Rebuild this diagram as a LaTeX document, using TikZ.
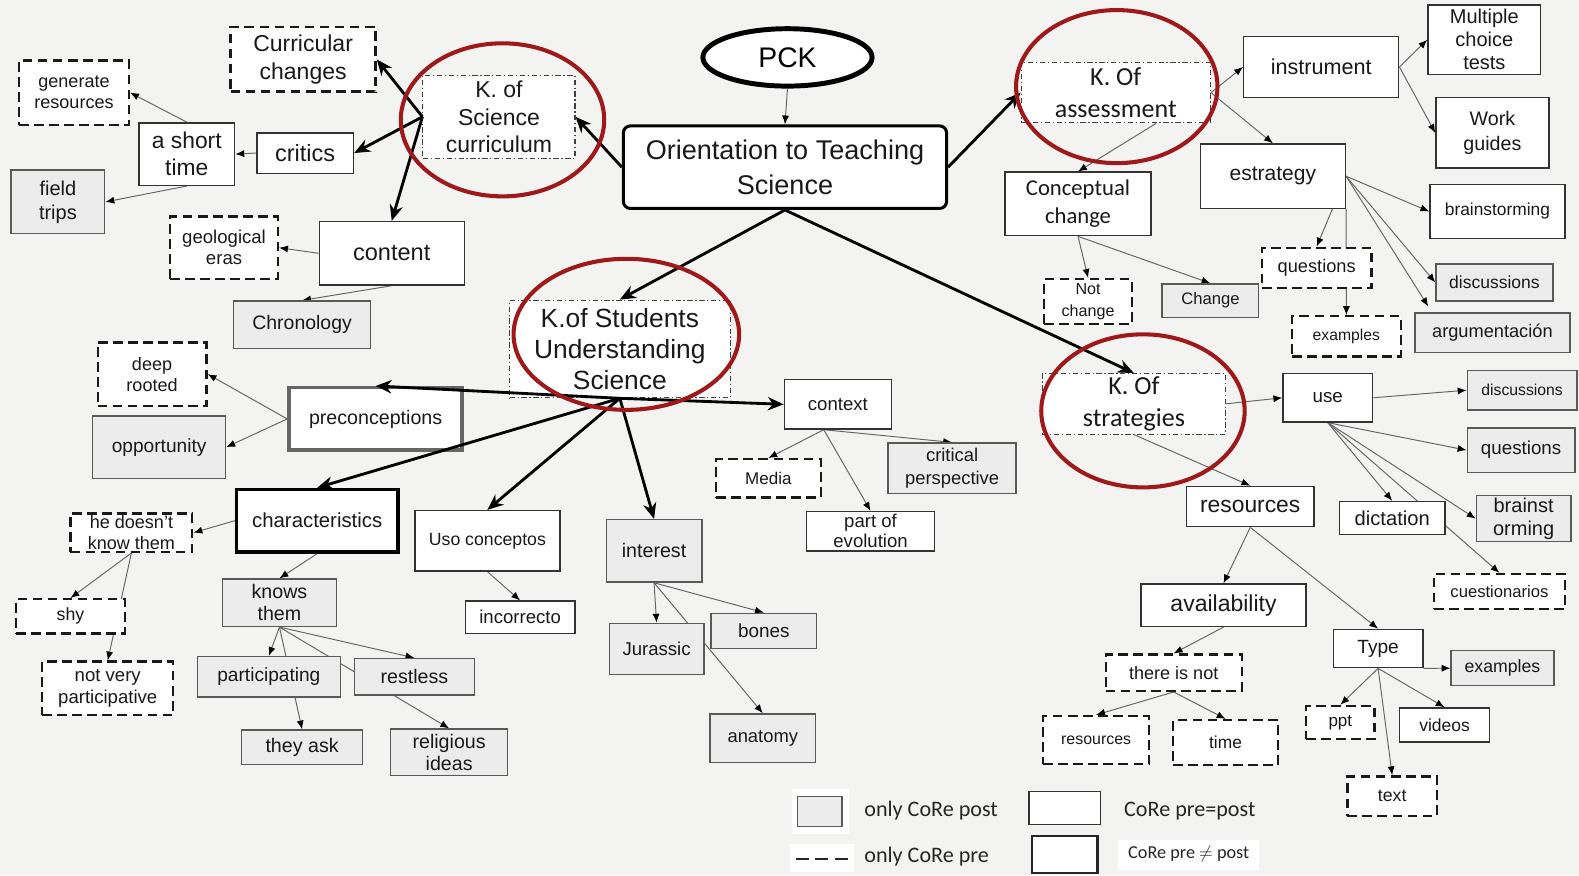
\documentclass[tikz,border=0pt]{standalone}
\usepackage{fontspec}
\setmainfont{Liberation Sans}
\newfontfamily\calib{Carlito}
\usetikzlibrary{arrows.meta,calc,shapes.geometric}
\pgfdeclarelayer{bgl}\pgfdeclarelayer{edges}\pgfsetlayers{bgl,edges,main}
\definecolor{bgc}{HTML}{F3F3F1}
\definecolor{postc}{HTML}{ECECEC}
\definecolor{redc}{HTML}{9E1A1A}
\newcommand\bx[7]{\node[#2, minimum width={(#5-#3)*0.02cm}, minimum height={(#6-#4)*0.02cm}] (#1) at ({(#3+#5)/2},{(#4+#6)/2}) {#7};}
\begin{document}
\begin{tikzpicture}[x=0.02cm,y=-0.02cm,
  fs/.style 2 args={font=\fontsize{#1}{#2}\selectfont},
  cfs/.style 2 args={font=\calib\fontsize{#1}{#2}\selectfont},
  nb/.style={rectangle, align=center, inner sep=0.5pt, text=black!90},
  plain/.style={nb, draw=black!80, line width=0.8pt, fill=white},
  post/.style={nb, draw=black!65, line width=0.8pt, fill=postc},
  pre/.style={nb, draw=black!90, line width=1.3pt, dash pattern=on 5.5pt off 3pt, fill=white},
  kbox/.style={nb, draw=black!75, line width=0.6pt, dash pattern=on 3pt off 1.5pt on 0.7pt off 1.5pt, fill=white},
  neq/.style={nb, draw=black, line width=2pt, fill=white},
  precb/.style={nb, draw=black!60, line width=2pt, fill=white},
  orst/.style={nb, draw=black, line width=1.7pt, rounded corners=4pt, fill=white},
  big/.style={draw=black, line width=1.6pt, -{Stealth[length=9pt,width=7.5pt]}},
  sm/.style={draw=black!60, line width=0.55pt, -{Latex[length=5pt,width=4pt,color=black]}},
  ring/.style={draw=redc, line width=2.3pt}]
\useasboundingbox (0,0) rectangle (1568,869);
\begin{pgfonlayer}{bgl}
\fill[bgc] (0,0) rectangle (1568,869);
\end{pgfonlayer}

% top centre
\node[ellipse, draw=black, line width=2.8pt, fill=white, minimum width={168*0.02cm}, minimum height={57*0.02cm}, fs={16pt}{18pt}] (pck) at (782,57) {PCK};
\bx{orient}{orst,fs={15.3pt}{19.8pt}}{619}{125}{940}{207}{Orientation to Teaching\\Science}

% left top
\bx{curr}{pre,fs={13pt}{15.9pt}}{229}{27}{373}{91}{Curricular\\changes}
\bx{ksc}{kbox,fs={13pt}{15.3pt}}{420}{75}{571}{157}{K. of\\Science\\curriculum}
\bx{gen}{pre,fs={10.2pt}{11.9pt}}{19}{60}{128}{124}{generate\\resources}
\bx{short}{plain,fs={12.9pt}{15.3pt}}{138}{122}{233}{184}{a short\\time}
\bx{critics}{plain,fs={13.3pt}{15pt}}{255}{132}{351}{172}{critics}
\bx{field}{post,fs={11.3pt}{13.6pt}}{11}{169}{104}{232}{field\\trips}
\bx{geo}{pre,fs={10.5pt}{11.9pt}}{169}{215}{276}{277}{geological\\eras}
\bx{content}{plain,fs={13.3pt}{15pt}}{317}{220}{461}{283}{content}
\bx{chrono}{post,fs={11pt}{13pt}}{232}{299}{368}{346}{Chronology}

% left middle / bottom
\bx{deep}{pre,fs={10.2pt}{11.9pt}}{97}{340}{205}{403}{deep\\rooted}
\bx{opp}{post,fs={10.8pt}{13pt}}{92}{413}{224}{475}{opportunity}
\bx{precon}{precb,fs={11.1pt}{13pt}}{287}{385}{459}{447}{preconceptions}
\bx{kstu}{kbox,fs={14.9pt}{17.6pt}}{506}{298}{725}{395}{K.of Students\\Understanding\\Science}
\bx{char}{neq,fs={11.5pt}{13pt}}{235}{486}{395}{548}{characteristics}
\bx{hdk}{pre,fs={10.2pt}{11.5pt}}{70}{510}{191}{548}{he doesn't\\know them}
\bx{shy}{pre,fs={10pt}{12pt}}{16}{595}{124}{629}{shy}
\bx{nvp}{pre,fs={10.5pt}{12pt}}{42}{657}{172}{710}{not very\\participative}
\bx{knows}{post,fs={11.1pt}{12.5pt}}{221}{575}{334}{622}{knows\\them}
\bx{partic}{post,fs={10.8pt}{13pt}}{196}{652}{338}{692}{participating}
\bx{restless}{post,fs={11.1pt}{13pt}}{352}{654}{471}{690}{restless}
\bx{theyask}{post,fs={11.1pt}{13pt}}{240}{725}{360}{759}{they ask}
\bx{relig}{post,fs={11.1pt}{12.5pt}}{388}{724}{504}{770}{religious\\ideas}
\bx{uso}{plain,fs={10pt}{12pt}}{412}{507}{556}{567}{Uso conceptos}
\bx{incor}{plain,fs={10.5pt}{12pt}}{462}{597}{571}{629}{incorrecto}
\bx{interest}{post,fs={11.1pt}{13pt}}{602}{516}{697}{578}{interest}
\bx{jur}{post,fs={10.5pt}{12pt}}{605}{619}{699}{670}{Jurassic}
\bx{bones}{post,fs={10.7pt}{12pt}}{706}{609}{811}{644}{bones}
\bx{anat}{post,fs={10.4pt}{12pt}}{705}{709}{810}{757}{anatomy}
\bx{context}{plain,fs={10.5pt}{12pt}}{779}{377}{885}{426}{context}
\bx{media}{pre,fs={9.6pt}{12pt}}{711}{456}{815}{494}{Media}
\bx{crit}{post,fs={10.4pt}{12.5pt}}{882}{440}{1009}{490}{critical\\perspective}
\bx{poe}{plain,fs={10.5pt}{11.3pt}}{801}{508}{928}{547}{part of\\evolution}

% right top
\bx{kass}{kbox,cfs={14.7pt}{18.1pt}}{1014}{62}{1202}{122}{K. Of\\assessment}
\bx{instr}{plain,fs={12.2pt}{14pt}}{1235}{36}{1389}{97}{instrument}
\bx{mct}{plain,fs={11.3pt}{13pt}}{1418}{5}{1530}{74}{Multiple\\choice\\tests}
\bx{wg}{plain,fs={11.1pt}{13.6pt}}{1426}{97}{1538}{167}{Work\\guides}
\bx{cc}{plain,cfs={12.8pt}{15.9pt}}{998}{171}{1143}{234}{Conceptual\\change}
\bx{estr}{plain,fs={11.9pt}{14pt}}{1192}{143}{1336}{207}{estrategy}
\bx{brain}{plain,fs={9.8pt}{12pt}}{1420}{183}{1554}{237}{brainstorming}
\bx{quest}{pre,fs={10.3pt}{12pt}}{1253}{246}{1362}{286}{questions}
\bx{notch}{pre,fs={9.1pt}{12.5pt}}{1037}{277}{1124}{322}{Not\\change}
\bx{change}{post,fs={9.4pt}{12pt}}{1154}{282}{1250}{315}{Change}
\bx{disc}{post,fs={9.9pt}{12pt}}{1426}{262}{1542}{299}{discussions}
\bx{exa}{pre,fs={8.9pt}{11pt}}{1283}{314}{1391}{354}{examples}
\bx{arg}{post,fs={10.3pt}{12pt}}{1405}{311}{1559}{350}{argumentación}

% right middle / bottom
\bx{kstr}{kbox,cfs={14.7pt}{18.1pt}}{1035}{371}{1217}{431}{K. Of\\strategies}
\bx{use}{plain,fs={10.6pt}{12pt}}{1274}{371}{1363}{419}{use}
\bx{disc2}{post,fs={8.9pt}{11pt}}{1457}{368}{1566}{407}{discussions}
\bx{q2}{post,fs={10.6pt}{12pt}}{1457}{425}{1564}{469}{questions}
\bx{res}{plain,fs={12.9pt}{14pt}}{1178}{483}{1305}{523}{resources}
\bx{dict}{plain,fs={11.4pt}{13pt}}{1330}{498}{1435}{531}{dictation}
\bx{bo}{post,fs={11.3pt}{13pt}}{1466}{492}{1560}{538}{brainst\\orming}
\bx{cuest}{pre,fs={9.4pt}{11pt}}{1424}{570}{1554}{605}{cuestionarios}
\bx{avail}{plain,fs={13pt}{14pt}}{1133}{580}{1297}{622}{availability}
\bx{type}{plain,fs={10.8pt}{12pt}}{1324}{625}{1413}{663}{Type}
\bx{ex2}{post,fs={10pt}{12pt}}{1441}{646}{1543}{681}{examples}
\bx{tin}{pre,fs={10.2pt}{12pt}}{1098}{650}{1233}{686}{there is not}
\bx{res2}{pre,fs={9pt}{11pt}}{1036}{711}{1141}{759}{resources}
\bx{time}{pre,fs={9.8pt}{11pt}}{1165}{715}{1269}{760}{time}
\bx{ppt}{pre,fs={9.6pt}{11pt}}{1297}{701}{1365}{734}{ppt}
\bx{videos}{plain,fs={9.9pt}{11pt}}{1390}{703}{1479}{737}{videos}
\bx{text}{pre,fs={10pt}{11pt}}{1338}{771}{1427}{810}{text}

% thin connectors (behind the boxes)
\begin{pgfonlayer}{edges}
\draw[sm] (pck.south) -- (orient.north);
\draw[sm] (critics.west) -- (short.east);
\draw[sm] (short.north) -- (gen.east);
\draw[sm] (short.south) -- (field.east);
\draw[sm] (content.west) -- (geo.east);
\draw[sm] (content.south) -- (chrono.north);
\draw[sm] (precon.west) -- (deep.east);
\draw[sm] (precon.west) -- (opp.east);
\draw[sm] (char.west) -- (hdk.east);
\draw[sm] (char.south) -- (knows.north);
\draw[sm] (hdk.south) -- (shy.north);
\draw[sm] (hdk.south) -- (nvp.north);
\draw[sm] (knows.south) -- (partic.north);
\draw[sm] (knows.south) -- (theyask.north);
\draw[sm] (knows.south) -- (restless.north);
\draw[sm] (knows.south) -- (relig.north);
\draw[sm] (uso.south) -- (incor.north);
\draw[sm] (interest.south) -- (jur.north);
\draw[sm] (interest.south) -- (bones.north);
\draw[sm] (interest.south) -- (anat.north);
\draw[sm] ($(context.south)+(-14,0)$) -- (media.north);
\draw[sm] ($(context.south)+(-14,0)$) -- (poe.north);
\draw[sm] ($(context.south)+(-14,0)$) -- (crit.north);
\draw[sm] (kass.east) -- (instr.west);
\draw[sm] (kass.east) -- (estr.north);
\draw[sm] ($(kass.south)+(40,0)$) -- (cc.north);
\draw[sm] (instr.east) -- (mct.west);
\draw[sm] (instr.east) -- (wg.west);
\draw[sm] (estr.east) -- (brain.west);
\draw[sm] (estr.east) -- (quest.north);
\draw[sm] (estr.east) -- (disc.west);
\draw[sm] (estr.east) -- ($(arg.north west)+(14,-6)$);
\draw[sm] (estr.south east) -- (exa.north);
\draw[sm] (cc.south) -- (notch.north);
\draw[sm] (cc.south) -- (change.north);
\draw[sm] (kstr.east) -- (use.west);
\draw[sm] (kstr.south) -- (res.north);
\draw[sm] (use.east) -- (disc2.west);
\draw[sm] (use.south) -- (q2.west);
\draw[sm] (use.south) -- (dict.north);
\draw[sm] (use.south) -- (bo.west);
\draw[sm] (use.south) -- (cuest.north);
\draw[sm] (res.south) -- (avail.north);
\draw[sm] (res.south) -- (type.north);
\draw[sm] (avail.south) -- (tin.north);
\draw[sm] (tin.south) -- (res2.north);
\draw[sm] (tin.south) -- (time.north);
\draw[sm] (type.south east) -- (ex2.west);
\draw[sm] (type.south) -- (ppt.north);
\draw[sm] (type.south) -- (videos.north);
\draw[sm] (type.south) -- (text.north);
\end{pgfonlayer}

% thick connectors
\draw[big] (orient.west) -- (ksc.east);
\draw[big] (ksc.west) -- (curr.east);
\draw[big] (ksc.west) -- (critics.east);
\draw[big] (ksc.west) -- (content.north);
\draw[big] (orient.south) -- (kstu.north);
\draw[big] (orient.south) -- (kstr.north);
\draw[big] (orient.east) -- (kass.west);
\draw[big] (kstu.south) -- (precon.north);
\draw[big] (kstu.south) -- (char.north);
\draw[big] (kstu.south) -- (uso.north);
\draw[big] (kstu.south) -- (interest.north);
\draw[big] (kstu.south) -- (context.west);

% red rings
\draw[ring] (499,119) ellipse [x radius=101, y radius=76];
\draw[ring] (622,332) ellipse [x radius=112, y radius=75];
\draw[ring] (1109,86) ellipse [x radius=100, y radius=76];
\draw[ring] (1135,408) ellipse [x radius=101, y radius=76];

% legend
\fill[white] (786,783) rectangle (843,828);
\fill[white] (784,838) rectangle (848,866);
\fill[white] (1110,834) rectangle (1250,864);
\bx{lg1}{post}{792}{791}{836}{821}{}
\bx{lg2}{plain}{1022}{786}{1093}{819}{}
\bx{lg3}{nb,draw=black!85,line width=1.4pt,fill=white}{1025}{830}{1090}{867}{}
\coordinate (la) at (790,853);
\coordinate (lb) at (842,853);
\draw[black!85, line width=1.1pt, dash pattern=on 7.4pt off 3.7pt] (la) -- (lb);
\node[anchor=west, cfs={12.5pt}{14pt}, text=black!85, inner sep=0pt] (lt1) at (858,805) {only CoRe post};
\node[anchor=west, cfs={12.5pt}{14pt}, text=black!85, inner sep=0pt] (lt2) at (858,851) {only CoRe pre};
\node[anchor=west, cfs={12.5pt}{14pt}, text=black!85, inner sep=0pt] (lt3) at (1116,805) {CoRe pre=post};
\node[anchor=west, cfs={10.3pt}{12pt}, text=black!85, inner sep=0pt] (lt4) at (1120,848) {CoRe pre $\neq$ post};
\end{tikzpicture}
\end{document}
